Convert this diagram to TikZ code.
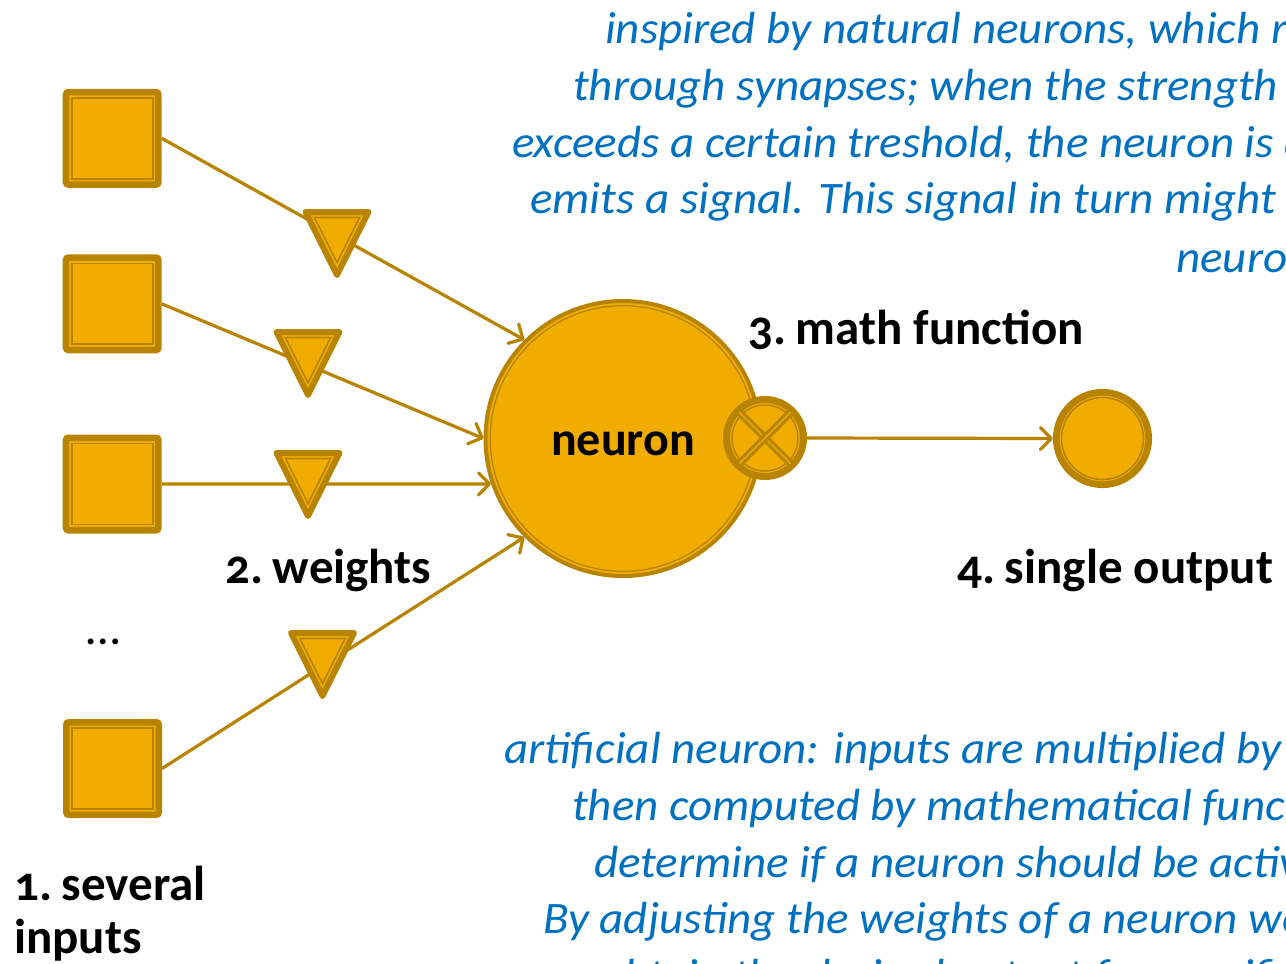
\documentclass[tikz,border=0pt]{standalone}
\usepackage{fontspec}
\setmainfont{Carlito}[Numbers=OldStyle]
\usetikzlibrary{arrows.meta,calc}
\definecolor{gfill}{RGB}{240,173,0}
\definecolor{gline}{RGB}{184,132,0}
\definecolor{tblue}{RGB}{0,112,192}
\begin{document}
\begin{tikzpicture}[x=1pt,y=-1pt,
  sq/.style={rectangle, minimum size=92.5pt, inner sep=0pt, fill=gfill, draw=gline,
    line width=6.5pt, rounded corners=2.5pt,
    path picture={\draw[gline, line width=1.7pt, sharp corners]
      ([shift={(5.8pt,-5.8pt)}]path picture bounding box.north west) rectangle
      ([shift={(-5.8pt,5.8pt)}]path picture bounding box.south east);}},
  tri/.style={fill=gfill, draw=gline, line width=6pt, line join=round},
  triin/.style={draw=gline, line width=1.6pt, line join=miter},
  conn/.style={draw=gline, line width=3.2pt, -{Straight Barb[length=11pt,width=22pt,round]}},
  lbl/.style={font=\fontsize{49}{58}\selectfont\bfseries, inner sep=0pt, anchor=base west},
  btxt/.style={font=\fontsize{45}{54}\selectfont\itshape\addfontfeature{FakeStretch=1.045}, text=tblue, inner sep=0pt, anchor=base west},
  xarm/.style={draw=gline, line width=3.2pt, double=gfill, double distance=1.2pt, line cap=round}
]
\useasboundingbox (0,0) rectangle (1286,964);
\clip (0,0) rectangle (1286,964);

% neuron
\node[circle, minimum size=275pt, inner sep=0pt, fill=gfill, draw=gline, line width=4pt,
  font=\fontsize{48}{56}\selectfont\bfseries, text height=33pt, text depth=0pt,
  path picture={\draw[gline, line width=1.3pt] (path picture bounding box.center) circle (132.8pt);}]
  (n) at (623,438.5) {neuron};

% inputs
\node[sq] (s1) at (112.2,138.3) {};
\node[sq] (s2) at (112.2,303.8) {};
\node[sq] (s3) at (112.2,484) {};
\node[sq] (s4) at (112.5,768.5) {};

% math function
\node[circle, minimum size=77pt, inner sep=0pt, fill=gfill, draw=gline, line width=7pt,
  path picture={\draw[gline, line width=1.5pt] (path picture bounding box.center) circle (33pt);}]
  (x) at (765,438) {};
\draw[xarm] ($(x.center)+(-25.5,-25.5)$) -- ($(x.center)+(25.5,25.5)$);
\draw[xarm] ($(x.center)+(-25.5,25.5)$) -- ($(x.center)+(25.5,-25.5)$);

% output
\node[circle, minimum size=92.4pt, inner sep=0pt, fill=gfill, draw=gline, line width=6.7pt,
  path picture={\draw[gline, line width=1.6pt] (path picture bounding box.center) circle (41pt);}]
  (o) at (1102.5,438.5) {};

% connectors
\draw[conn] (s1.east) -- (n.135);
\draw[conn] (s2.east) -- (n.180);
\draw[conn] (s3.east) -- (n.199);
\draw[conn] (s4.east) -- (n.225);
\draw[conn] (x.east) -- (o.west);

% weights (triangles), coordinate = incenter
\coordinate (w1) at (337,231.5);
\coordinate (w2) at (308,351.5);
\coordinate (w3) at (308,472.5);
\coordinate (w4) at (322.5,652.5);
\foreach \w in {w1,w2,w3,w4}{
  \draw[tri] ($(\w)+(-31.5,-19.5)$) -- ($(\w)+(31.5,-19.5)$) -- ($(\w)+(0,43.5)$) -- cycle;
  \draw[triin] ($(\w)+(-22.6,-14)$) -- ($(\w)+(22.6,-14)$) -- ($(\w)+(0,31.2)$) -- cycle;
}

% labels
\node[lbl] (l3) at (748,344) {3.\hspace{-5pt} math function};
\node[lbl] (l2) at (225,583) {2.\hspace{-5pt} weights};
\node[lbl] (l4) at (957,583) {4.\hspace{-5pt} single output};
\node[lbl] (l1a) at (14,900) {1.\hspace{-5pt} several};
\node[lbl] (l1b) at (14,953) {inputs};
\node[lbl, font=\fontsize{49}{58}\selectfont] (dots) at (86,644) {…};

% top text
\node[btxt] (t1) at (605,43) {inspired by natural neurons, which receive signals};
\node[btxt] (t2) at (573,100) {through synapses; when the strength of the};
\node[btxt] (t3) at (512,157) {exceeds a certain treshold, the neuron is activated};
\node[btxt] (t4) at (530,213) {emits a signal. This signal in turn might activate};
\node[btxt] (t5) at (1176,272) {neurons.};

% bottom text
\node[btxt] (b1) at (504,763) {artificial neuron: inputs are multiplied by weights};
\node[btxt] (b2) at (572,820) {then computed by mathematical function which};
\node[btxt] (b3) at (594,877) {determine if a neuron should be activated};
\node[btxt] (b4) at (543,933) {By adjusting the weights of a neuron we can};
\node[btxt] (b5) at (600,990) {obtain the desired output for specific inputs};
\end{tikzpicture}
\end{document}
